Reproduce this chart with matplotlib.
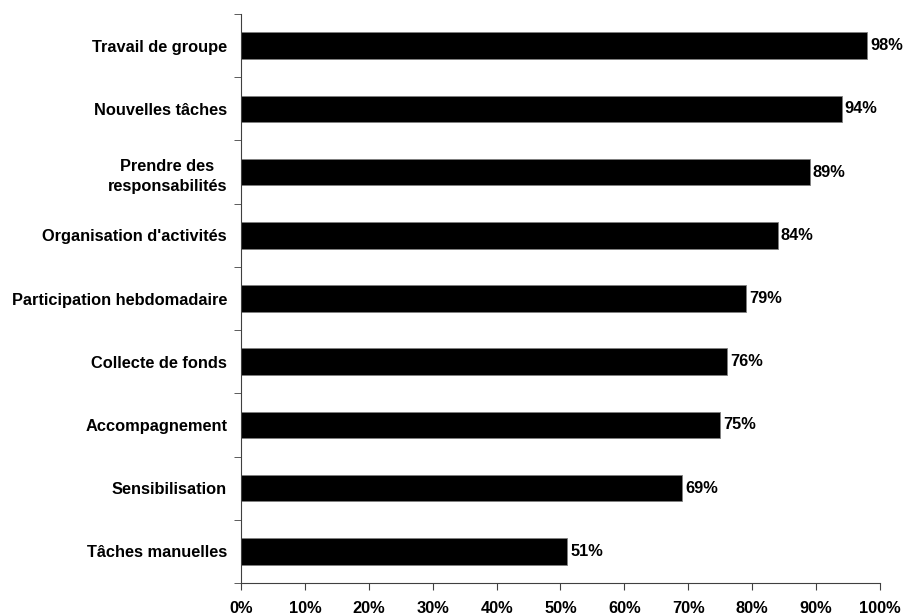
import matplotlib.pyplot as plt
import numpy as np

plt.rcParams['font.family'] = ['Liberation Sans', 'DejaVu Sans']

categories = ["Travail de groupe", "Nouvelles tâches", "Prendre des\nresponsabilités",
              "Organisation d'activités", "Participation hebdomadaire", "Collecte de fonds",
              "Accompagnement", "Sensibilisation", "Tâches manuelles"]
values = [98, 94, 89, 84, 79, 76, 75, 69, 51]
xticks = [0, 10, 20, 30, 40, 50, 60, 70, 80, 90, 100]

fs = 11.8

fig = plt.figure(figsize=(9.04, 6.15), dpi=100)
ax = fig.add_axes([241 / 904, 1 - 583 / 615, 639 / 904, 569 / 615])

n = len(categories)
y = np.arange(n)[::-1]
ax.barh(y, values, height=0.42, color='black', edgecolor='#808080', linewidth=0.6)

for yi, v in zip(y, values):
    ax.text(v + 0.5, yi, '%d%%' % v, ha='left', va='center', fontsize=fs, fontweight='bold')

ax.set_xlim(0, 100)
ax.set_ylim(-0.5, n - 0.5)
ax.set_xticks(xticks)
ax.set_xticklabels(['%d%%' % t for t in xticks], fontsize=fs, fontweight='bold')
ax.set_yticks(y)
ax.set_yticklabels(categories, fontsize=fs, fontweight='bold', multialignment='center',
                   linespacing=1.45)
ax.set_yticks(np.arange(n + 1) - 0.5, minor=True)
ax.tick_params(axis='y', which='major', length=0, pad=10)
ax.tick_params(axis='y', which='minor', length=5, direction='out', color='#404040')
ax.tick_params(axis='x', length=5, direction='out', pad=8, color='#404040')

for s in ['top', 'right']:
    ax.spines[s].set_visible(False)
for s in ['left', 'bottom']:
    ax.spines[s].set_color('#404040')
    ax.spines[s].set_linewidth(0.8)

fig.savefig('out.png', dpi=100)
